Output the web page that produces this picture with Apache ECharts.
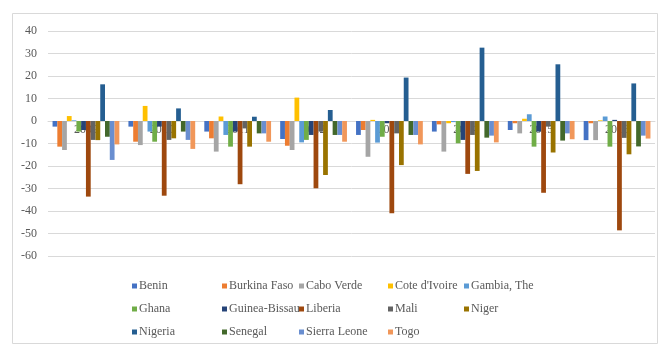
<!DOCTYPE html>
<html>
<head>
<meta charset="utf-8">
<script src="https://cdn.jsdelivr.net/npm/echarts@6/dist/echarts.min.js"></script>
<style>
  html, body { margin: 0; padding: 0; background: #ffffff; }
  #chart { width: 662px; height: 345px; }
</style>
</head>
<body>
<div id="chart"></div>
<script>
// Years on the category axis
const years = ['2009', '2010', '2011', '2012', '2013', '2014', '2015', '2016'];

// Y axis ticks
const yTicks = [40, 30, 20, 10, 0, -10, -20, -30, -40, -50, -60];

// One array per country, one value per year
const benin        = [-2.5, -2.5, -4.7, -8.0, -6.2, -4.7, -4.0, -8.5];
const burkinaFaso  = [-11.4, -9.2, -7.7, -11.0, -4.0, -1.5, -1.0, -1.0];
const caboVerde    = [-12.9, -10.7, -13.6, -12.9, -15.9, -13.6, -5.5, -8.5];
const coteDIvoire  = [2.2, 6.7, 2.0, 10.4, 0.5, -1.0, 1.0, 0.3];
const gambia       = [0.3, -4.7, -6.2, -9.5, -9.6, -0.5, 3.0, 2.0];
const ghana        = [-4.7, -9.2, -11.4, -8.4, -7.0, -9.9, -11.4, -11.4];
const guineaBissau = [-4.0, -2.5, -4.7, -6.2, -1.0, -8.4, -4.7, 0.5];
const liberia      = [-33.6, -33.2, -28.1, -29.9, -41.0, -23.5, -31.9, -48.6];
const mali         = [-8.4, -8.4, -3.3, -4.7, -5.5, -6.2, -2.5, -7.5];
const niger        = [-8.5, -7.7, -11.4, -24.0, -19.6, -22.2, -14.0, -14.8];
const nigeria      = [16.3, 5.6, 1.9, 4.9, 19.3, 32.6, 25.2, 16.7];
const senegal      = [-7.0, -4.7, -5.5, -6.2, -6.2, -7.4, -8.7, -11.3];
const sierraLeone  = [-17.3, -8.4, -5.5, -6.2, -6.2, -6.5, -5.5, -6.5];
const togo         = [-10.4, -12.4, -9.2, -9.2, -10.4, -9.5, -8.1, -7.8];

const countries = [
  'Benin', 'Burkina Faso', 'Cabo Verde', "Cote d'Ivoire", 'Gambia, The',
  'Ghana', 'Guinea-Bissau', 'Liberia', 'Mali', 'Niger',
  'Nigeria', 'Senegal', 'Sierra Leone', 'Togo'
];
const values = [
  benin, burkinaFaso, caboVerde, coteDIvoire, gambia,
  ghana, guineaBissau, liberia, mali, niger,
  nigeria, senegal, sierraLeone, togo
];
const colors = [
  '#4472C4', '#ED7D31', '#A5A5A5', '#FFC000', '#5B9BD5',
  '#70AD47', '#264478', '#9E480E', '#636363', '#997300',
  '#255E91', '#43682B', '#698ED0', '#F1975A'
];

const FONT = 'Liberation Serif';
const TEXT = '#595959';
const GRID = '#D9D9D9';

const series = countries.map((name, i) => ({
  name: name,
  type: 'bar',
  data: values[i],
  itemStyle: { color: colors[i] },
  barGap: '0%',
  barCategoryGap: '12%',
  animation: false
}));

// Legend swatches are rich-text boxes so the swatch sits tight against its label
const rich = {
  t: { fontFamily: FONT, fontSize: 12, color: TEXT, padding: [0, 0, 0, 2], verticalAlign: 'middle', lineHeight: 14 }
};
countries.forEach((_, i) => {
  rich['m' + i] = { width: 5, height: 5, backgroundColor: colors[i], verticalAlign: 'middle' };
});

// Five columns of up to three entries
const swatchLefts = [127, 217, 294, 383, 459];
const legends = swatchLefts.map((left, c) => {
  const names = [];
  for (let r = 0; r < 3; r++) {
    const idx = r * 5 + c;
    if (idx < countries.length) names.push(countries[idx]);
  }
  return {
    data: names,
    orient: 'vertical',
    left: left - 6,
    top: 275,
    itemWidth: 1,
    itemHeight: 6,
    itemGap: 11,
    icon: 'none',
    selectedMode: false,
    formatter: name => '{m' + countries.indexOf(name) + '|}{t|' + name + '}',
    textStyle: { fontFamily: FONT, fontSize: 12, color: TEXT, rich: rich }
  };
});

const chart = echarts.init(document.getElementById('chart'), null, { renderer: 'canvas' });
chart.setOption({
  animation: false,
  backgroundColor: '#ffffff',
  graphic: [{
    type: 'rect',
    shape: { x: 12.5, y: 13.5, width: 645, height: 330 },
    style: { fill: 'none', stroke: GRID, lineWidth: 1 },
    silent: true,
    z: -1
  }],
  grid: { left: 48, right: 7, top: 31, bottom: 89 },
  legend: legends,
  xAxis: {
    type: 'category',
    data: years,
    position: 'bottom',
    // category axis crosses the value axis at zero: 60 units * 2.25 px above the grid bottom
    offset: -135,
    axisLine: { onZero: false, lineStyle: { color: GRID } },
    axisTick: { show: false },
    axisLabel: { fontFamily: FONT, fontSize: 12, color: TEXT, margin: 3 },
    z: 0
  },
  yAxis: {
    type: 'value',
    min: yTicks[yTicks.length - 1],
    max: yTicks[0],
    interval: 10,
    axisLine: { show: false },
    axisTick: { show: false },
    axisLabel: { fontFamily: FONT, fontSize: 12, color: TEXT, margin: 11 },
    splitLine: { lineStyle: { color: GRID } }
  },
  series: series
});
</script>
</body>
</html>
